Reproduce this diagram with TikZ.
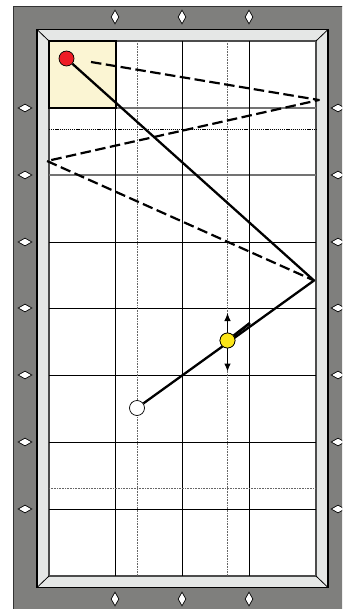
\documentclass[tikz,border=0pt]{standalone}
\definecolor{railgray}{HTML}{7F7F7D}
\definecolor{cushion}{HTML}{E5E7E6}
\definecolor{cream}{HTML}{FBF5D3}
\definecolor{ballred}{HTML}{EE1C25}
\definecolor{ballyellow}{HTML}{FBE518}
\definecolor{edgedark}{HTML}{333333}
\tikzset{
  diam/.style={diamond,draw=black,fill=white,line width=.7pt,inner sep=0pt},
  diamv/.style={diam,minimum width=8pt,minimum height=14pt,aspect=.6},
  diamh/.style={diam,minimum width=14pt,minimum height=8pt,aspect=1.7},
  gridline/.style={draw=black,line width=.9pt},
  gridgray/.style={draw=black!55,line width=1.2pt},
  dotline/.style={draw=black!60,line width=1pt,dash pattern=on 1pt off .6pt},
  dotdark/.style={draw=black,line width=.8pt,dash pattern=on 1.2pt off .9pt},
  ball/.style={circle,draw=black,line width=.7pt,minimum size=15pt,inner sep=0pt},
  shot/.style={draw=black,line width=2.3pt,line join=round},
  shotdash/.style={draw=black,line width=2.2pt,line join=round,dash pattern=on 10.5pt off 4.5pt},
  cue/.style={draw=black,line width=1pt,-{Latex[length=8pt,width=6.5pt]}},
}
\usetikzlibrary{shapes.geometric,arrows.meta}
\begin{document}
\begin{tikzpicture}[x=1pt,y=-1pt]
\useasboundingbox (0,0) rectangle (342,609);
\clip (0,0) rectangle (342,609);
% rail
\fill[railgray,draw=edgedark,line width=.8pt] (13.5,6) rectangle (360,630);
% cushion
\fill[cushion,draw=black,line width=1.1pt] (37,29.5) rectangle (328,587.5);
\fill[white,draw=black!70,line width=1.1pt] (49,41) rectangle (316,576);
\foreach \ax/\ay/\bx/\by in {37/29.5/49/41,328/29.5/316/41,37/587.5/49/576,328/587.5/316/576}
  \draw[black,line width=.8pt] (\ax,\ay) -- (\bx,\by);
% baulk box
\fill[cream] (49,41) rectangle (116,108);
% grid
\foreach \y in {108,175} \draw[gridgray] (49,\y) -- (316,\y);
\foreach \y in {242,308.5,375,442,509} \draw[gridline] (49,\y) -- (316,\y);
\foreach \x in {115.5,182.5,249.5} \draw[gridline] (\x,41) -- (\x,576);
\foreach \x in {137,227.5} \draw[dotline] (\x,41) -- (\x,576);
\draw[dotdark] (49,129.5) -- (316,129.5);
\draw[dotline] (49,488) -- (316,488);
\draw[black,line width=1.4pt] (49,41) -- (116,41) -- (116,108) -- (49,108) -- cycle;
% diamonds
\foreach \x in {115,182,249} {
  \node[diamv] at (\x,17) {};
  \node[diamv] at (\x,599) {};
}
\foreach \y in {108,175,242,308,375,442,509} {
  \node[diamh] at (25,\y) {};
  \node[diamh] at (338,\y) {};
}
% balls and bounce points
\node[ball,fill=ballred] (red) at (66.5,58.5) {};
\node[ball,fill=ballyellow] (yellow) at (227.5,340.5) {};
\node[ball,fill=white] (white) at (137,408) {};
\coordinate (bounce) at (314,280.5);
\coordinate (dashstart) at (91,62);
\coordinate (dashb) at (319,100);
\coordinate (dashc) at (47,161);
\coordinate (thickend) at (250,323);
\coordinate (up) at (227.5,313);
\coordinate (down) at (227.5,371.5);
% shots
\draw[shot] (red) -- (bounce) -- (white);
\draw[shot,line width=2.7pt] (yellow) -- (thickend);
\draw[shotdash] (dashstart) -- (dashb) -- (dashc) -- (bounce);
\draw[cue] (yellow) -- (up);
\draw[cue] (yellow) -- (down);
\node[ball,fill=ballyellow] at (yellow) {};
\end{tikzpicture}
\end{document}
